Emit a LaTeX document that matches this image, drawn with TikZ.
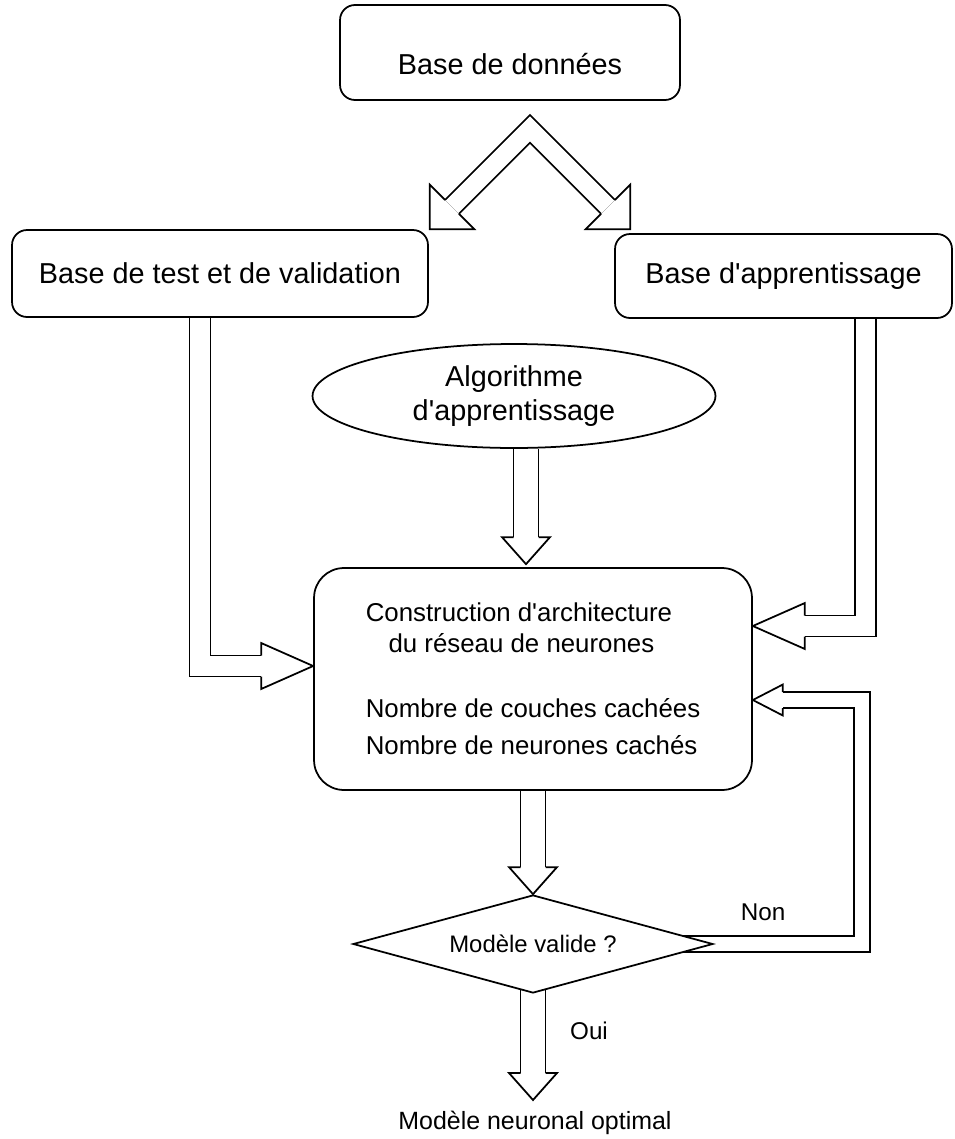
\documentclass[tikz,border=0pt]{standalone}
\usepackage{fontspec}
\setmainfont{Liberation Sans}[Ligatures=TeXOff]
\usetikzlibrary{shapes.geometric,calc,backgrounds}
\def\splithead#1/#2/#3\relax{\def\hlen{#1}\def\hwid{#2}\def\swid{#3}}
\tikzset{
    blockhead/.pic = {
    \splithead#1\relax
    \draw[line width=1pt, line join=miter] (-\hlen,\swid) -- (-\hlen,\hwid) -- (0,0) -- (-\hlen,-\hwid) -- (-\hlen,-\swid);
    },
    shaft/.style = {draw, double=white, double distance=#1, line width=1pt, line join=miter},
    dbbox/.style = {draw, fill=white, line width=1pt, rounded corners=8.5pt, inner sep=0pt, font=\fontsize{16.4}{19.8}\selectfont},
    algoshape/.style = {ellipse, draw, fill=white, line width=1pt, inner sep=0pt, align=center, font=\fontsize{16.4}{19.8}\selectfont},
    archbox/.style = {draw, fill=white, line width=1pt, rounded corners=17pt, align=left, font=\fontsize{14.7}{17.6}\selectfont},
    testshape/.style = {diamond, draw, fill=white, line width=1pt, aspect=3.67, inner sep=0pt, font=\fontsize{13.6}{16}\selectfont},
    lbl/.style = {inner sep=0pt, font=\fontsize{13.8}{16}\selectfont}
}

\begin{document}
\begin{tikzpicture}[x=0.02cm, y=0.02cm, line join=miter]
\useasboundingbox (0,0) rectangle (954,-1139);
\node[dbbox, minimum width=6.8cm, minimum height=1.9cm, text height=25pt, text depth=0pt] (base) at (510,-52.5) {Base de données};
\node[dbbox, minimum width=8.32cm, minimum height=1.74cm] (testbox) at (220,-273.5) {Base de test et de validation};
\node[dbbox, minimum width=6.74cm, minimum height=1.68cm] (learnbox) at (783.5,-276) {Base d'apprentissage};
\node[algoshape, minimum width=8.06cm, minimum height=2.08cm] (algo) at (514,-396) {Algorithme\\d'apprentissage};
\node[archbox, minimum width=8.76cm, minimum height=4.44cm] (archi) at (533,-679) {Construction d'architecture\\\hspace*{13pt}du réseau de neurones\\[19.3pt]Nombre de couches cachées\\[3.4pt]Nombre de neurones cachés};
\node[testshape, minimum width=7.2cm, minimum height=1.96cm] (valide) at (533,-944) {Modèle valide ?};
\node[lbl, anchor=north, font=\fontsize{14.2}{16}\selectfont] (final) at (535,-1111) {Modèle neuronal optimal};
\node[lbl] (oui) at (589,-1031) {Oui};
\node[lbl] (non) at (763,-912) {Non};
\begin{scope}[on background layer]
\coordinate (apex) at ($(base.south)+(20,-28)$);
\draw[shaft=10.1pt] ($(apex)+(-78,-78)$) -- (apex) -- ($(apex)+(78,-78)$);
\path ($(apex)+(-100.3,-100.3)$) pic[rotate=-135] {blockhead=31.5/31.5/9.8};
\path ($(apex)+(100.3,-100.3)$) pic[rotate=-45] {blockhead=31.5/31.5/9.8};
\coordinate (t1) at ($(archi.north)+(-7,3)$);
\draw[shaft=13.2pt] (t1 |- algo.south) -- ($(t1)+(0,27)$);
\path (t1) pic[rotate=-90] {blockhead=27/24/12.5};
\draw[shaft=13.2pt] (archi.south) -- ($(valide.north)+(0,27)$);
\path (valide.north) pic[rotate=-90] {blockhead=27/24/12.5};
\coordinate (t3) at ($(final.north)+(-2,11)$);
\draw[shaft=13.2pt] (valide.center -| t3) -- ($(t3)+(0,27)$);
\path (t3) pic[rotate=-90] {blockhead=27/24/12.5};
\coordinate (t5) at ($(archi.west)+(0,13)$);
\draw[shaft=10.9pt] ($(testbox.south)+(-20,0)$) |- ($(t5)+(-52,0)$);
\path (t5) pic {blockhead=52/23/10.5};
\coordinate (t6) at ($(archi.east)+(0,53)$);
\draw[shaft=10.9pt] ($(learnbox.south)+(82,0)$) |- ($(t6)+(52,0)$);
\path (t6) pic[rotate=180] {blockhead=52/23/10.5};
\coordinate (t7) at ($(archi.east)+(0,-21)$);
\draw[shaft=8.1pt] ($(valide.east)+(-40,0)$) -| ($(t7)+(109,0)$) -- ($(t7)+(30,0)$);
\path (t7) pic[rotate=180] {blockhead=30/15.5/8};
\end{scope}
\end{tikzpicture}
\end{document}
